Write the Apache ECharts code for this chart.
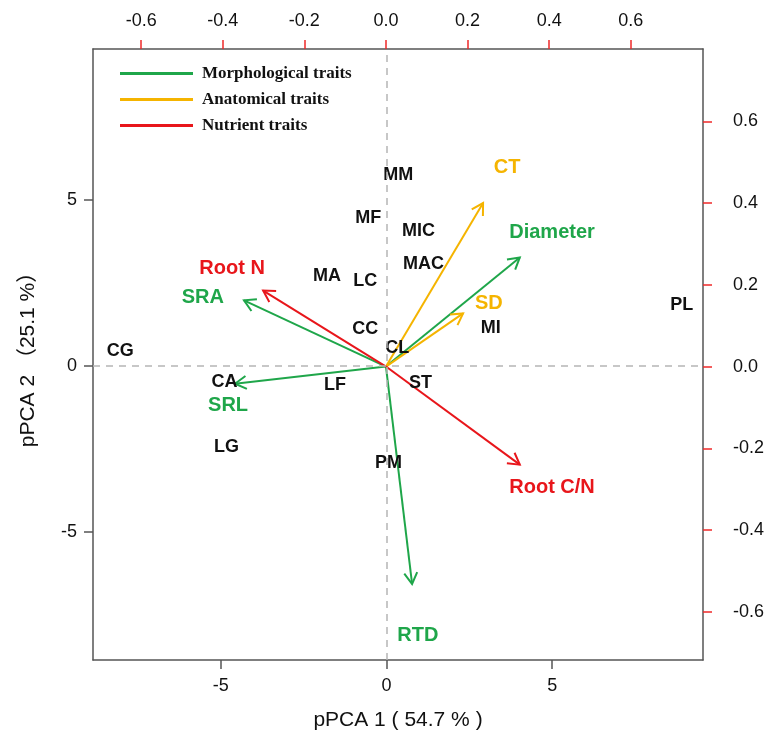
<!DOCTYPE html>
<html><head><meta charset="utf-8">
<script src="https://cdn.jsdelivr.net/npm/echarts@6/dist/echarts.min.js"></script>
<style>html,body{margin:0;padding:0;background:#fff}#c{width:776px;height:738px}</style>
</head><body><div id="c"></div>
<script>
// ---- data ----
const sampleNames = ['MM','MF','MIC','MAC','MA','LC','CC','CL','CA','LF','ST','LG','PM','CG','MI','PL'];
const sampleX = [0.36,-0.55,0.97,1.12,-1.79,-0.64,-0.64,0.33,-4.88,-1.55,1.03,-4.82,0.06,-8.03,3.15,8.91];
const sampleY = [5.75,4.46,4.07,3.07,2.71,2.56,1.11,0.54,-0.48,-0.57,-0.51,-2.44,-2.92,0.45,1.14,1.84];

const groupNames = ['Morphological traits','Anatomical traits','Nutrient traits'];
const traitNames = ['SRA','SRL','RTD','Diameter','CT','SD','Root N','Root C/N'];
const traitGroup = [0,0,0,0,1,1,2,2];
const loadX = [-0.348,-0.370,0.064,0.328,0.238,0.189,-0.301,0.328];
const loadY = [0.162,-0.042,-0.532,0.267,0.400,0.130,0.186,-0.240];
const labelX = [-0.449,-0.387,0.078,0.407,0.297,0.252,-0.377,0.407];
const labelY = [0.169,-0.096,-0.659,0.328,0.488,0.154,0.240,-0.297];

const scoreTicks = [-5,0,5];
const loadTicks = [-0.6,-0.4,-0.2,0,0.2,0.4,0.6];
const scoreRange = [-8.85, 9.55];
const loadRange = [-0.718, 0.777];

// ---- styling ----
const groupColors = ['#1fa64a','#f5b400','#e8161b'];
const SANS = 'Liberation Sans, Arial, sans-serif';
const boxColor = '#555';
const tickRed = '#f02a2a';

function arrowItem(params, api) {
  const o = api.coord([0, 0]);
  const p = api.coord([api.value(0), api.value(1)]);
  const ang = Math.atan2(p[1] - o[1], p[0] - o[0]);
  const L = 13, a = Math.PI / 6;
  const h1 = [p[0] - L * Math.cos(ang - a), p[1] - L * Math.sin(ang - a)];
  const h2 = [p[0] - L * Math.cos(ang + a), p[1] - L * Math.sin(ang + a)];
  const c = api.visual('color');
  return { type: 'group', children: [
    { type: 'line', shape: { x1: o[0], y1: o[1], x2: p[0], y2: p[1] }, style: { stroke: c, lineWidth: 2 } },
    { type: 'polyline', shape: { points: [h1, p, h2] }, style: { stroke: c, lineWidth: 2, fill: null } }
  ]};
}

const arrowSeries = groupNames.map((g, gi) => ({
  name: g,
  type: 'custom',
  coordinateSystem: 'cartesian2d',
  xAxisIndex: 1, yAxisIndex: 1,
  renderItem: arrowItem,
  itemStyle: { color: groupColors[gi] },
  encode: { x: 0, y: 1 },
  silent: true,
  z: 3,
  data: traitNames.map((n, i) => traitGroup[i] === gi ? [loadX[i], loadY[i], n] : null).filter(d => d)
}));

const traitLabelSeries = {
  type: 'scatter',
  xAxisIndex: 1, yAxisIndex: 1,
  symbolSize: 1,
  itemStyle: { color: 'rgba(0,0,0,0)', opacity: 1 },
  silent: true,
  z: 5,
  data: traitNames.map((n, i) => ({
    value: [labelX[i], labelY[i]], name: n,
    label: { show: true, position: 'inside', formatter: n, color: groupColors[traitGroup[i]],
      fontFamily: SANS, fontWeight: 'bold', fontSize: 20 }
  }))
};

const sampleSeries = {
  type: 'scatter',
  xAxisIndex: 0, yAxisIndex: 0,
  symbolSize: 1,
  itemStyle: { color: 'rgba(0,0,0,0)', opacity: 1 },
  silent: true,
  z: 4,
  label: { show: true, position: 'inside', formatter: p => p.name, color: '#111',
    fontFamily: SANS, fontWeight: 'bold', fontSize: 18 },
  data: sampleNames.map((n, i) => ({ value: [sampleX[i], sampleY[i]], name: n })),
  markLine: {
    silent: true, symbol: ['none', 'none'], label: { show: false },
    lineStyle: { type: [7, 6], color: '#b5b5b5', width: 1.5 },
    data: [{ xAxis: 0 }, { yAxis: 0 }]
  }
};

function axisBase(extra) {
  return Object.assign({
    type: 'value',
    splitLine: { show: false },
    axisLine: { show: true, onZero: false, lineStyle: { color: boxColor, width: 1.5 } }
  }, extra);
}

const option = {
  animation: false,
  backgroundColor: '#fff',
  grid: { left: 93, right: 73, top: 49, bottom: 78 },
  legend: {
    orient: 'vertical', left: 115, top: 60,
    itemWidth: 73, itemHeight: 3, itemGap: 9, icon: 'rect',
    data: groupNames,
    textStyle: { fontFamily: 'Liberation Serif, Times New Roman, serif', fontWeight: 'bold', fontSize: 17, color: '#111', padding: [0, 0, 0, 4] }
  },
  xAxis: [
    axisBase({
      position: 'bottom', min: scoreRange[0], max: scoreRange[1],
      axisTick: { show: true, length: 9, customValues: scoreTicks, lineStyle: { color: boxColor, width: 1.5 } },
      axisLabel: { customValues: scoreTicks, margin: 17, fontSize: 18, color: '#111', fontFamily: SANS },
      name: 'pPCA 1 ( 54.7 % )', nameLocation: 'middle', nameGap: 50,
      nameTextStyle: { fontSize: 21, color: '#111', fontFamily: SANS }
    }),
    axisBase({
      position: 'top', min: loadRange[0], max: loadRange[1],
      axisTick: { show: true, length: 9, customValues: loadTicks, lineStyle: { color: tickRed, width: 1.5 } },
      axisLabel: { customValues: loadTicks, margin: 19, fontSize: 18, color: '#111', fontFamily: SANS,
        formatter: v => v.toFixed(1) }
    })
  ],
  yAxis: [
    axisBase({
      position: 'left', min: scoreRange[0], max: scoreRange[1],
      axisTick: { show: true, length: 9, customValues: scoreTicks, lineStyle: { color: boxColor, width: 1.5 } },
      axisLabel: { customValues: scoreTicks, margin: 16, fontSize: 18, color: '#111', fontFamily: SANS },
      name: 'pPCA 2 （25.1 %）', nameLocation: 'middle', nameGap: 54,
      nameTextStyle: { fontSize: 21, color: '#111', fontFamily: 'Liberation Sans, Noto Sans CJK SC, sans-serif' }
    }),
    axisBase({
      position: 'right', min: loadRange[0], max: loadRange[1],
      axisTick: { show: true, length: 9, customValues: loadTicks, lineStyle: { color: tickRed, width: 1.5 } },
      axisLabel: { customValues: loadTicks, margin: 30, fontSize: 18, color: '#111', fontFamily: SANS,
        formatter: v => v.toFixed(1) }
    })
  ],
  series: [sampleSeries].concat(arrowSeries, [traitLabelSeries])
};

const chart = echarts.init(document.getElementById('c'), null, { renderer: 'canvas' });
chart.setOption(option);
</script>
</body></html>
